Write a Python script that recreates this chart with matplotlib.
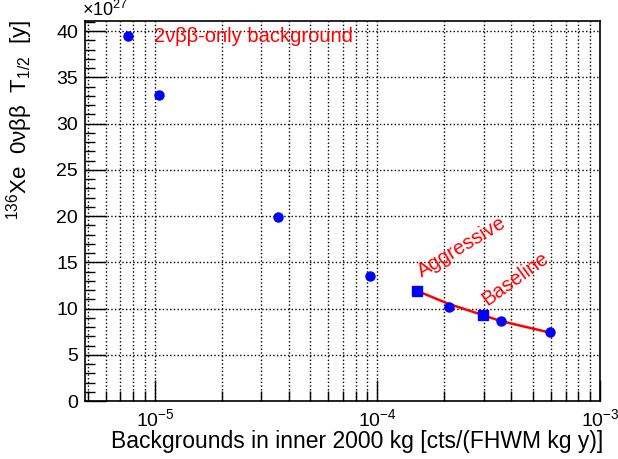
import matplotlib
matplotlib.use("Agg")
import matplotlib.pyplot as plt
import matplotlib.ticker as ticker
import numpy as np

plt.rcParams['font.family'] = ['Liberation Sans', 'DejaVu Sans']
plt.rcParams['mathtext.fontset'] = 'custom'
plt.rcParams['mathtext.rm'] = 'Liberation Sans'
plt.rcParams['mathtext.it'] = 'Liberation Sans'

# 2vbb-only background scan
bkg_only = [7.55e-6, 1.04e-5, 3.58e-5, 9.29e-5, 2.09e-4, 3.58e-4, 5.95e-4]
t_half_only = [39.46, 33.08, 19.9, 13.5, 10.16, 8.65, 7.46]

# aggressive / baseline design points
design_bkg = [1.51e-4, 2.97e-4]
design_t = [11.9, 9.3]

# red curve through the design region
curve_bkg = [1.51e-4, 2.09e-4, 2.97e-4, 3.58e-4, 5.95e-4]
curve_t = [11.9, 10.5, 9.3, 8.65, 7.4]

W, H = 618, 459
fig = plt.figure(figsize=(W / 100, H / 100), dpi=100)
ax = fig.add_axes([85/W, 58/H, 515/W, 380/H])

ax.plot(curve_bkg, curve_t, color='red', lw=1.8, marker='s', ms=2, zorder=2)
ax.plot(bkg_only, t_half_only, 'o', color='blue', ms=6.5, zorder=3)
ax.plot(design_bkg, design_t, 's', color='blue', ms=6.5, zorder=4)

ax.set_xscale('log')
ax.set_xlim(4.85e-6, 1e-3)
ax.set_ylim(0, 41.1)

ax.yaxis.set_major_locator(ticker.MultipleLocator(5))
ax.yaxis.set_minor_locator(ticker.MultipleLocator(1))
ax.xaxis.set_minor_locator(ticker.LogLocator(base=10, subs=np.arange(2, 10)))
ax.xaxis.set_minor_formatter(ticker.NullFormatter())

ax.grid(True, which='major', axis='y', color='black', ls=':', lw=1)
ax.grid(True, which='both', axis='x', color='black', ls=':', lw=1)

ax.tick_params(which='both', direction='in', labelsize=14, top=False, right=False)
ax.tick_params(which='major', length=15, width=1)
ax.tick_params(which='minor', length=7, width=1)
ax.tick_params(axis='x', pad=5)
ax.tick_params(axis='y', pad=5)
for s in ax.spines.values():
    s.set_linewidth(1.2)

ax.text(-0.005, 1.003, r'$\times10^{27}$', transform=ax.transAxes, fontsize=13, ha='left', va='bottom')

# axis titles, ROOT style: aligned to the far end of each axis
fig.text(603/W, 11/H, 'Backgrounds in inner 2000 kg [cts/(FHWM kg y)]', fontsize=16.5,
         ha='right', va='baseline')
fig.text(20/W, 1 - 20/H, r'$^{136}$Xe  0νββ  T$_{1/2}$  [y]', fontsize=16,
         rotation=90, ha='center', va='top')

ax.text(9.9e-6, 39.4, '2νββ-only background', color='red', fontsize=14.5, va='center')
ax.text(1.46e-4, 13.0, 'Aggressive', color='red', fontsize=14.5, rotation=31, ha='left', va='bottom')
ax.text(2.85e-4, 9.9, 'Baseline', color='red', fontsize=14.5, rotation=36, ha='left', va='bottom')

fig.savefig('out.png', dpi=100)
